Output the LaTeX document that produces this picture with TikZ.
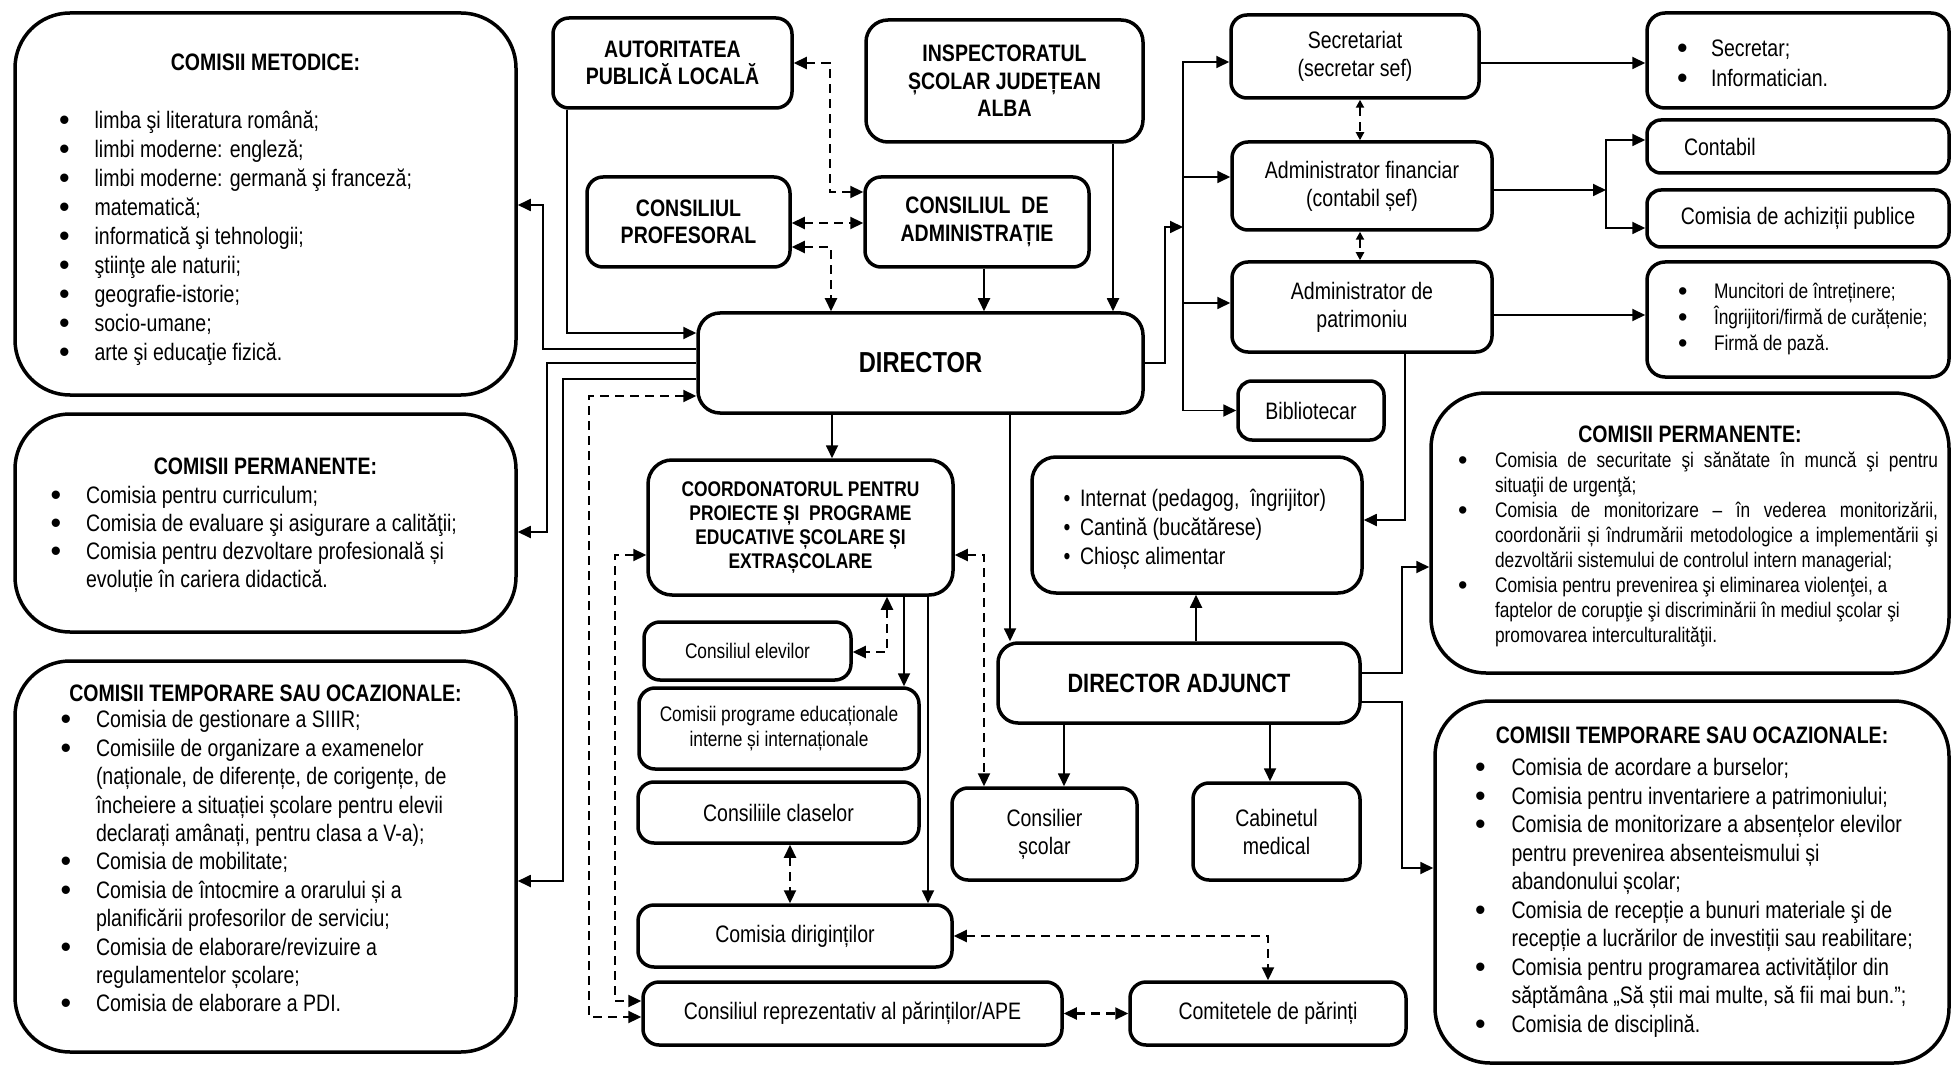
\documentclass[tikz,border=0pt]{standalone}
\usepackage{fontspec}
\usepackage{graphicx}
\setmainfont[FakeStretch=0.82]{Liberation Sans}
\usetikzlibrary{arrows.meta}
\newcommand{\bulina}{\raisebox{-2pt}{\scalebox{1.55}[1.3]{\textbullet}}}

\begin{document}
\begin{tikzpicture}[x=1pt,y=-1pt,
	>={Triangle[length=13pt,width=12pt]},
	cadru/.style={draw,line width=3.5pt,inner sep=0pt},
	box/.style={cadru,rounded corners=16pt,align=center,font=\fontsize{23.8}{28}\selectfont},
	lista/.style={cadru,rounded corners=55pt,font=\fontsize{23.8}{28.3}\selectfont},
	tare/.style={font=\fontsize{23.8}{27.5}\selectfont\bfseries},
	mic/.style={font=\fontsize{21.1}{24.5}\selectfont},
	sag/.style={line width=1.8pt,->},
	punct/.style={line width=2.2pt,dash pattern=on 9pt off 6pt,<->},
	scurt/.style={arrows={Triangle[length=8pt,width=8pt]-Triangle[length=8pt,width=8pt]}}]
	\useasboundingbox (0,0) rectangle (1952,1067);

	% Comisii (stanga)
	\node[lista,minimum width=501pt,minimum height=382pt] (met) at (265.5,204) {\fontsize{23.8}{29}\selectfont
		\begin{tabular}{@{}p{35.6pt}@{}p{377.4pt}@{}}
		\noalign{\vskip 11pt}
		\multicolumn{2}{@{}c@{}}{\bfseries COMISII METODICE:}\\[29pt]
		\bulina & limba şi literatura română;\\
		\bulina & limbi moderne: engleză;\\
		\bulina & limbi moderne: germană şi franceză;\\
		\bulina & matematică;\\
		\bulina & informatică şi tehnologii;\\
		\bulina & ştiinţe ale naturii;\\
		\bulina & geografie-istorie;\\
		\bulina & socio-umane;\\
		\bulina & arte şi educaţie fizică.
		\end{tabular}};
	\node[lista,minimum width=501pt,minimum height=218pt] (permL) at (265.5,523) {\fontsize{23.8}{28}\selectfont
		\begin{tabular}{@{}p{35.5pt}@{}p{394.5pt}@{}}
		\noalign{\vskip 5pt}
		\multicolumn{2}{@{}c@{}}{\bfseries COMISII PERMANENTE:}\\[1pt]
		\bulina & Comisia pentru curriculum;\\
		\bulina & Comisia de evaluare şi asigurare a calităţii;\\
		\bulina & Comisia pentru dezvoltare profesională și\\
		& evoluție în cariera didactică.
		\end{tabular}};
	\node[lista,minimum width=501pt,minimum height=391pt] (tempL) at (265.5,856.5) {\fontsize{23.8}{28.4}\selectfont
		\begin{tabular}{@{}p{35.5pt}@{}p{374.5pt}@{}}
		\multicolumn{2}{@{}c@{}}{\bfseries COMISII TEMPORARE SAU OCAZIONALE:}\\[-2pt]
		\bulina & Comisia de gestionare a SIIIR;\\
		\bulina & Comisiile de organizare a examenelor\\
		& (naționale, de diferențe, de corigențe, de\\
		& încheiere a situației școlare pentru elevii\\
		& declarați amânați, pentru clasa a V-a);\\
		\bulina & Comisia de mobilitate;\\
		\bulina & Comisia de întocmire a orarului și a\\
		& planificării profesorilor de serviciu;\\
		\bulina & Comisia de elaborare/revizuire a\\
		& regulamentelor școlare;\\
		\bulina & Comisia de elaborare a PDI.\\[11pt]
		\end{tabular}};

	% Conducere
	\node[box,tare,minimum width=239pt,minimum height=90pt] (aut) at (672.5,63) {AUTORITATEA\\PUBLICĂ LOCALĂ};
	\node[box,tare,rounded corners=22pt,minimum width=277pt,minimum height=122pt] (isj) at (1004.5,81) {INSPECTORATUL\\ȘCOLAR JUDEȚEAN\\ALBA};
	\node[box,tare,minimum width=203pt,minimum height=90pt] (cp) at (688.5,222) {CONSILIUL\\PROFESORAL};
	\node[box,tare,minimum width=224pt,minimum height=90pt] (cda) at (977,222) {CONSILIUL~~DE\\ADMINISTRAȚIE};
	\node[box,rounded corners=22pt,minimum width=445pt,minimum height=100pt,font=\fontsize{28.9}{34}\selectfont\bfseries] (dir) at (920.5,363) {DIRECTOR};
	\node[box,rounded corners=24pt,minimum width=305pt,minimum height=135pt,font=\fontsize{21.2}{24.3}\selectfont\bfseries] (coord) at (800.5,527.5) {COORDONATORUL PENTRU\\PROIECTE ȘI~~PROGRAME\\EDUCATIVE ȘCOLARE ȘI\\EXTRAȘCOLARE};
	\node[box,rounded corners=20pt,minimum width=362pt,minimum height=80pt,font=\fontsize{26.5}{30}\selectfont\bfseries] (da) at (1179,683) {DIRECTOR ADJUNCT};

	% Centru
	\node[box,mic,minimum width=207pt,minimum height=58pt] (celev) at (747.5,651) {Consiliul elevilor};
	\node[box,mic,minimum width=280pt,minimum height=81pt] (cprog) at (779,728.5) {Comisii programe educaționale\\interne și internaționale};
	\node[box,minimum width=281pt,minimum height=61pt] (ccls) at (778.5,812.5) {Consiliile claselor};
	\node[box,minimum width=314pt,minimum height=62pt] (cdir) at (795,936) {Comisia diriginților};
	\node[box,minimum width=419pt,minimum height=63pt] (crp) at (852.5,1013.5) {Consiliul reprezentativ al părinților/APE};
	\node[box,minimum width=276pt,minimum height=63pt] (comit) at (1268,1013.5) {Comitetele de părinți};
	\node[box,minimum width=185pt,minimum height=92pt] (consil) at (1044.5,834) {Consilier\\școlar};
	\node[box,minimum width=167pt,minimum height=97pt] (cabin) at (1276.5,831.5) {Cabinetul\\medical};
	\node[lista,rounded corners=24pt,minimum width=330pt,minimum height=136pt] (intern) at (1197,525) {\fontsize{23.8}{29}\selectfont
		\begin{tabular}{@{\hspace{16.6pt}}p{16.4pt}@{}p{267pt}@{}}
		\noalign{\vskip 10pt}
		\textbullet & Internat (pedagog,~~îngrijitor)\\
		\textbullet & Cantină (bucătărese)\\
		\textbullet & Chioșc alimentar
		\end{tabular}};

	% Dreapta
	\node[box,minimum width=248pt,minimum height=83pt] (sec) at (1355,56.5) {Secretariat\\(secretar sef)};
	\node[box,minimum width=260pt,minimum height=88pt] (admfin) at (1362,186) {Administrator financiar\\(contabil șef)};
	\node[box,minimum width=260pt,minimum height=90pt] (admpat) at (1362,307) {Administrator de\\patrimoniu};
	\node[box,rounded corners=14pt,minimum width=146pt,minimum height=59pt] (bibl) at (1311,410.5) {Bibliotecar};
	\node[lista,rounded corners=18pt,minimum width=302pt,minimum height=95pt] (secr) at (1798,60.5) {\fontsize{23.8}{30}\selectfont
		\begin{tabular}{@{}p{34pt}@{}p{208pt}@{}}
		\noalign{\vskip 10pt}
		\bulina & Secretar;\\
		\bulina & Informatician.
		\end{tabular}};
	\node[box,rounded corners=14pt,minimum width=302pt,minimum height=53pt,text width=228pt,align=left,inner xsep=37pt] (contab) at (1798,146.5) {Contabil};
	\node[box,rounded corners=14pt,minimum width=302pt,minimum height=57pt] (achiz) at (1798,218.5) {Comisia de achiziții publice};
	\node[lista,rounded corners=18pt,minimum width=302pt,minimum height=115pt] (munc) at (1798,319.5) {\fontsize{21.1}{25.5}\selectfont
		\begin{tabular}{@{\hspace{21pt}}p{36pt}@{}p{225pt}@{}}
		\bulina & Muncitori de întreținere;\\
		\bulina & Îngrijitori/firmă de curățenie;\\
		\bulina & Firmă de pază.
		\end{tabular}};
	\node[lista,minimum width=518pt,minimum height=280pt] (permR) at (1690,533) {\fontsize{21.1}{25}\selectfont
		\begin{tabular}{@{\hspace{16pt}}p{37pt}@{}p{443pt}@{}}
		\noalign{\vskip 9pt}
		\multicolumn{2}{@{}c@{}}{\fontsize{23.8}{28}\selectfont\bfseries COMISII PERMANENTE:}\\[0.5pt]
		\bulina & \makebox[443pt][s]{Comisia de securitate şi sănătate în muncă şi pentru}\\
		& situaţii de urgenţă;\\
		\bulina & \makebox[443pt][s]{Comisia de monitorizare – în vederea monitorizării,}\\
		& \makebox[443pt][s]{coordonării și îndrumării metodologice a implementării şi}\\
		& dezvoltării sistemului de controlul intern managerial;\\
		\bulina & Comisia pentru prevenirea şi eliminarea violenţei, a\\
		& faptelor de corupţie şi discriminării în mediul şcolar şi\\
		& promovarea interculturalităţii.
		\end{tabular}};
	\node[lista,minimum width=514pt,minimum height=362pt] (tempR) at (1692,882) {\fontsize{23.8}{28.5}\selectfont
		\begin{tabular}{@{\hspace{20pt}}p{36.5pt}@{}p{417.5pt}@{}}
		\multicolumn{2}{@{}c@{}}{\bfseries COMISII TEMPORARE SAU OCAZIONALE:}\\[3.9pt]
		\bulina & Comisia de acordare a burselor;\\
		\bulina & Comisia pentru inventariere a patrimoniului;\\
		\bulina & Comisia de monitorizare a absențelor elevilor\\
		& pentru prevenirea absenteismului și\\
		& abandonului școlar;\\
		\bulina & Comisia de recepție a bunuri materiale şi de\\
		& recepție a lucrărilor de investiții sau reabilitare;\\
		\bulina & Comisia pentru programarea activităților din\\
		& săptămâna „Să știi mai multe, să fii mai bun.”;\\
		\bulina & Comisia de disciplină.
		\end{tabular}};

	% Sageti
	\draw[punct] (aut.east) -- (830,63) |- (cda.west |- 0,192);
	\draw[punct] (cp.east |- 0,223) -- (cda.west |- 0,223);
	\draw[punct] (cp.east |- 0,247) -| (dir.north -| 831,0);
	\draw[sag] (cda.south -| 984,0) -- (dir.north -| 984,0);
	\draw[sag] (isj.south -| 1113,0) -- (dir.north -| 1113,0);
	\draw[sag] (aut.south -| 567,0) |- (dir.west |- 0,333);
	\draw[sag] (dir.west |- 0,349) -| (543,205) -- (met.east |- 0,205);
	\draw[sag] (dir.west |- 0,363) -| (547,532) -- (permL.east |- 0,532);
	\draw[sag] (dir.west |- 0,379) -| (563,881) -- (tempL.east |- 0,881);
	\draw[punct] (dir.west |- 0,396) -| (589,1017) -- (crp.west |- 0,1017);
	\draw[punct] (coord.west |- 0,555) -| (615,1001) -- (crp.west |- 0,1001);
	\draw[sag] (dir.south -| 832,0) -- (coord.north -| 832,0);
	\draw[punct] (coord.east |- 0,555) -| (consil.north -| 984,0);
	\draw[punct] (coord.south -| 887,0) |- (celev.east |- 0,652);
	\draw[sag] (coord.south -| 904,0) -- (cprog.north -| 904,0);
	\draw[sag] (coord.south -| 928,0) -- (cdir.north -| 928,0);
	\draw[punct] (ccls.south -| 790,0) -- (cdir.north -| 790,0);
	\draw[punct] (cdir.east |- 0,936) -| (comit.north);
	\draw[punct] (crp.east) -- (comit.west);
	\draw[sag] (dir.south -| 1010,0) -- (da.north -| 1010,0);
	\draw[sag] (da.north -| 1196,0) -- (intern.south -| 1196,0);
	\draw[sag] (da.south -| 1064,0) -- (consil.north -| 1064,0);
	\draw[sag] (da.south -| 1270,0) -- (cabin.north -| 1270,0);
	\draw[sag] (da.east |- 0,673) -| (1402,567) -- (permR.west |- 0,567);
	\draw[sag] (da.east |- 0,702) -| (1402,868) -- (tempR.west |- 0,868);
	\coordinate (bus) at (1183,227);
	\draw[sag] (dir.east) -| (1165,227) -- (bus);
	\draw[sag] (bus) |- (sec.west |- 0,62);
	\draw[sag] (bus) |- (admfin.west |- 0,177);
	\draw[sag] (bus) |- (admpat.west |- 0,303);
	\draw[sag] (bus) |- (bibl.west);
	\draw[punct,scurt] (sec.south -| 1360,0) -- (admfin.north -| 1360,0);
	\draw[punct,scurt] (admfin.south -| 1360,0) -- (admpat.north -| 1360,0);
	\draw[sag] (sec.east |- 0,63) -- (secr.west |- 0,63);
	\coordinate (ramif) at (1606,190);
	\draw[sag] (admfin.east |- ramif) -- (ramif);
	\draw[sag] (ramif) |- (contab.west |- 0,140);
	\draw[sag] (ramif) |- (achiz.west |- 0,228);
	\draw[sag] (admpat.east |- 0,315) -- (munc.west |- 0,315);
	\draw[sag] (admpat.south -| 1405,0) |- (intern.east |- 0,520);
\end{tikzpicture}
\end{document}
